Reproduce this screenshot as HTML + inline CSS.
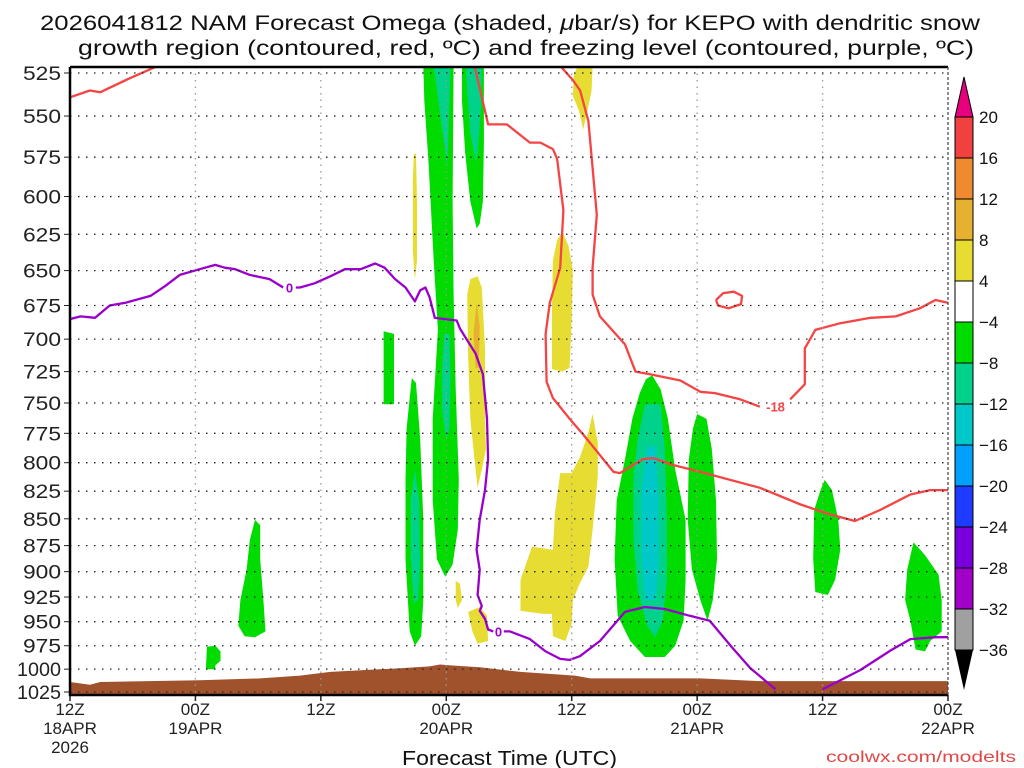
<!DOCTYPE html>
<html><head><meta charset="utf-8"><style>
body{margin:0;background:#fff;}
svg{display:block;font-family:"Liberation Sans",sans-serif;}
</style></head><body>
<svg id="chart" width="1024" height="768" viewBox="0 0 1024 768">
<text x="40" y="30" textLength="940" lengthAdjust="spacingAndGlyphs" font-size="21" fill="#111">2026041812 NAM Forecast Omega (shaded, <tspan font-style="italic">μ</tspan>bar/s) for KEPO with dendritic snow</text>
<text x="78" y="55" textLength="896" lengthAdjust="spacingAndGlyphs" font-size="21" fill="#111">growth region (contoured, red, ºC) and freezing level (contoured, purple, ºC)</text>
<g id="plot"></g>
<text x="402" y="765" textLength="215" lengthAdjust="spacingAndGlyphs" font-size="20" fill="#111">Forecast Time (UTC)</text>
<text x="826" y="762" textLength="190" lengthAdjust="spacingAndGlyphs" font-size="16" fill="#e04848">coolwx.com/modelts</text>
</svg>
<script>
// ---- data ----
const pressureTicks=[525,550,575,600,625,650,675,700,725,750,775,800,825,850,875,900,925,950,975,1000,1025];
const timeTickHours=[0,12,24,36,48,60,72,84];
const timeTickLabels=[["12Z","18APR","2026"],["00Z","19APR"],["12Z"],["00Z","20APR"],["12Z"],["00Z","21APR"],["12Z"],["00Z","22APR"]];
const colorLevels=[20,16,12,8,4,-4,-8,-12,-16,-20,-24,-28,-32,-36];
const colorFills=["#f04040","#f08a30","#e6b030","#e6dc32","#ffffff","#00dc00","#00d28c","#00c8c8","#00a0ff","#1e3cff","#7800dc","#a000c8","#a0a0a0"];
const terrain=[[0,1014],[1.9,1017],[2.9,1014],[12.4,1012],[18.2,1010],[22,1007],[24.9,1003],[31.6,999],[34.4,997],[35.4,995],[36.4,996],[39.2,998],[43.1,1003],[48.3,1007],[49.8,1010],[60.3,1010],[66,1013],[84,1013]];
const shadeGreen=[
[[33.8,521],[36.7,521],[36.6,603],[36.7,667],[36.9,738],[37.2,815],[37.1,860],[36.6,893],[35.9,905],[35.1,888],[34.7,833],[34.7,763],[35.2,693],[34.8,643],[34.3,578],[33.9,541]],
[[37.5,521],[39.6,521],[39.6,566],[39.5,603],[39.2,618],[38.9,621],[38.3,603],[37.8,572],[37.5,541]],
[[30,694],[31,696],[31,751],[30,751]],
[[32.7,730],[33.1,734],[33.5,780],[33.8,851],[33.8,928],[33.6,965],[33,975],[32.5,960],[32.1,888],[32.1,815],[32.2,771],[32.5,746]],
[[55.7,728],[56.5,739],[57.2,763],[57.9,806],[58.9,851],[58.9,908],[58.7,949],[57.9,975],[56.9,987],[55,987],[53.6,970],[52.4,944],[52.1,888],[52.3,833],[53.1,797],[53.8,763],[54.5,742],[55.1,731]],
[[60,759],[60.9,763],[61.4,788],[61.8,833],[61.9,888],[61.5,928],[61,949],[60.3,928],[59.5,898],[59.1,851],[59.2,797],[59.6,771]],
[[72.2,815],[72.9,824],[73.5,851],[73.7,879],[73.2,908],[72.5,923],[71.3,920],[71.1,888],[71.2,842],[71.8,824]],
[[80.7,872],[81.8,884],[83.1,903],[83.4,928],[83.4,960],[82.3,970],[81.8,981],[80.9,979],[80.4,949],[79.9,928],[80.1,898]],
[[17.7,851],[18.2,856],[18.2,888],[18.5,928],[18.7,960],[17.7,966],[16.7,965],[16.1,954],[16.3,928],[16.9,898],[17.2,870]],
[[13.1,976],[13.9,975],[14.4,981],[14.4,991],[13.9,996],[13.9,1000],[13,1000]]
];
const shadeTeal=[
[[34.8,521],[36.4,521],[36.1,581]],
[[35.8,696],[36.3,696],[36.4,730],[36.3,771],[36,780],[35.6,755],[35.6,722]],
[[37.9,521],[39.4,521],[39.3,547],[39,572],[38.8,578],[38.3,560],[38,535]],
[[33,806],[33.4,833],[33.5,888],[33.3,928],[32.9,931],[32.6,888],[32.6,833]],
[[55,751],[56.5,751],[56.9,788],[57.1,851],[57.1,908],[56.7,949],[56,966],[55.2,954],[54.3,918],[53.9,869],[53.9,815],[54.3,780]]
];
const shadeCyan=[
[[55.2,786],[56,786],[56.3,833],[56.3,898],[56,928],[55,928],[54.7,888],[54.7,824]]
];
const shadeYellow=[
[[32.9,573],[33.1,573],[33.2,603],[33.2,643],[33,656],[32.8,636],[32.8,590]],
[[48.6,521],[50,521],[49.9,535],[49.5,547],[49.1,558],[48.7,547],[48.1,538],[48.2,526]],
[[47.1,623],[47.7,633],[48.1,650],[48,685],[47.8,722],[47.1,725],[46.1,723],[46.1,681],[46.2,643],[46.6,629]],
[[38.3,656],[39,654],[39.4,662],[39.7,707],[39.7,763],[39.8,788],[39.4,806],[39,822],[38.7,797],[38.3,763],[38.1,715],[38,667]],
[[36.9,909],[37.3,912],[37.5,928],[37.1,936],[36.9,928]],
[[38.1,940],[39.2,935],[39.9,944],[40,970],[39,973],[38.5,960]],
[[50,759],[50.5,783],[50.5,812],[50,860],[49.6,895],[48.8,911],[48.1,928],[48,952],[47.4,970],[46.2,965],[46.1,942],[45.3,942],[43.1,939],[43.1,908],[44.2,876],[46.2,879],[46.4,844],[46.9,809],[48,809],[48.8,795],[49.6,774]]
];
const shadeGold=[
[[38.9,673],[39.2,690],[39.1,722],[38.8,722],[38.6,696]]
];
const redLines=[
[[0,539],[1.9,535],[2.9,536],[5.7,528],[8.4,521]],
[[38.7,521],[40,555],[41.8,555],[44,566],[45,566],[46.2,570],[46.6,576],[47.2,609],[46.9,648],[45.9,673],[45.5,696],[45.6,733],[46.2,746],[48,765],[49.1,776],[52,808],[52.6,809],[54.8,797],[55.8,796],[57.7,802],[60.3,808],[66,822],[69.9,837],[72.7,846],[75.1,852],[77.5,842],[80.4,828],[82.3,824],[84,824]],
[[46.9,521],[48.1,529],[48.8,535],[49.6,553],[50.4,612],[50,648],[50,667],[50.7,683],[53.1,704],[54.1,725],[55.5,727],[58.4,732],[60.3,741],[61.7,742],[64.1,747],[66,753]],
[[68.9,747],[70.3,735],[70.3,707],[71.3,693],[73.7,688],[76.6,684],[79,683],[81.3,677],[82.8,671],[84,673]],
[[61.8,671],[62.5,666],[63.5,665],[64.3,668],[64.2,674],[63,677],[62,675],[61.8,671]]
];
const redLabel=[67.5,753,"-18"];
const purpleLines=[
[[0,685],[1,683],[2.4,684],[3.8,675],[5.3,673],[7.7,668],[9.1,661],[10.5,653],[12.4,649],[13.9,646],[14.8,648],[15.8,649],[17.2,653],[19.1,656],[20.4,662]],
[[21.6,662],[22,662],[23.4,659],[24.9,654],[26.3,649],[27.8,649],[29.2,645],[30.1,648],[31.1,656],[32.1,662],[33,672],[33.5,664],[34,662],[34.4,669],[34.9,684],[35.9,685],[37,686],[37.3,692],[38.8,711],[39.5,727],[39.9,763],[40,797],[39.7,824],[39.2,851],[38.9,879],[39.2,898],[39,923],[39.4,934],[39.2,939],[39.7,947],[40,958],[40.5,960]],
[[41.5,960],[42.1,960],[44,968],[45.5,981],[46.9,989],[47.8,990],[48.8,986],[50.7,970],[53.1,940],[55,935],[56.9,937],[59.3,944],[61.2,949],[63.2,975],[65.1,999],[67.5,1022]],
[[72,1022],[75.6,1001],[78.5,980],[80.4,968],[82.8,966],[84,966]]
];
const purpleLabels=[[21,662,"0"],[41,960,"0"]];

// ---- axes ----
const X0=70,X1=948,Y0=67,Y1=695;
const hMax=84;
function xs(h){return X0+(h/hMax)*(X1-X0);}
function ys(p){return 73+Math.log(p/525)/Math.log(1025/525)*619;}
const NS="http://www.w3.org/2000/svg";
const plot=document.getElementById('plot');
function mk(tag,attrs,parent){const e=document.createElementNS(NS,tag);for(const k in attrs)e.setAttribute(k,attrs[k]);(parent||plot).appendChild(e);return e;}
function pts(arr){return arr.map(d=>xs(d[0]).toFixed(1)+","+ys(d[1]).toFixed(1)).join(" ");}

const defs=mk('defs',{});
const cp=mk('clipPath',{id:'clip'},defs);
mk('rect',{x:X0,y:Y0,width:X1-X0,height:Y1-Y0},cp);
const g=mk('g',{'clip-path':'url(#clip)'});



function shade(list,color,name){
  list.forEach((poly,i)=>{
    const e=mk('polygon',{points:pts(poly),fill:color},g);
    
    
  });
}
shade(shadeGreen,'#00dc00','omega-green');
shade(shadeTeal,'#00d28c','omega-teal');
shade(shadeCyan,'#00c8c8','omega-cyan');
shade(shadeYellow,'#e6dc32','omega-yellow');
shade(shadeGold,'#e6b030','omega-gold');

const tp=terrain.concat([[hMax,1040],[0,1040]]);
const terr=mk('polygon',{points:pts(tp),fill:'#a0522d'},g);



pressureTicks.forEach(p=>{
  const y=ys(p);
  const l=mk('line',{x1:X0,x2:X1,y1:y,y2:y,stroke:'#222','stroke-width':1.3,'stroke-dasharray':'1.5 6.5'});
  
  
  const t=mk('line',{x1:X0-6,x2:X0,y1:y,y2:y,stroke:'#222','stroke-width':1});
  
  
  const s=String(p);
  const w=s.length>3?44:38;
  const tx=mk('text',{x:61-w,y:y+7,'font-size':19,fill:'#222',textLength:w,lengthAdjust:'spacingAndGlyphs'});
  tx.textContent=s;
  
  
});
timeTickHours.forEach((h,i)=>{
  const x=xs(h);
  if(h>0&&h<hMax){
    const l=mk('line',{x1:x,x2:x,y1:Y0,y2:Y1,stroke:'#999','stroke-width':1.3,'stroke-dasharray':'1.5 5'});
    
    
  }
  const t=mk('line',{x1:x,x2:x,y1:Y1,y2:Y1+6,stroke:'#222','stroke-width':1.5});
  
  
  timeTickLabels[i].forEach((s,j)=>{
    const tx=mk('text',{x:x,y:Y1+20+j*19,'text-anchor':'middle','font-size':17,fill:'#222'});
    tx.textContent=s;
    
    
  });
});

function lines(list,color,name){
  list.forEach((ln,i)=>{
    const e=mk('polyline',{points:pts(ln),fill:'none',stroke:color,'stroke-width':2.3,'stroke-linejoin':'round'},g);
    
    
  });
}
lines(redLines,'#f44444','dgz-contour');
lines(purpleLines,'#9a00cc','freezing-contour');
const rl=mk('text',{x:xs(redLabel[0]),y:ys(redLabel[1])+5,'text-anchor':'middle','font-size':13,'font-weight':'bold',fill:'#f44444'});
rl.textContent=redLabel[2];


purpleLabels.forEach((d,i)=>{
  const t=mk('text',{x:xs(d[0]),y:ys(d[1])+5,'text-anchor':'middle','font-size':13,'font-weight':'bold',fill:'#9a00cc'});
  t.textContent=d[2];
  
  
});

const fr=mk('path',{d:`M${X0},${Y0}H${X1}M${X0},${Y0}V${Y1}H${X1}`,stroke:'#000','stroke-width':2.5,fill:'none'});


const fr2=mk('line',{x1:X1,x2:X1,y1:Y0,y2:Y1,stroke:'#444','stroke-width':1.2,'stroke-dasharray':'3 2'});



const CB={x:955,w:18,top:117,step:41};
const cb=mk('g',{});


const tri=mk('polygon',{points:`${CB.x},${CB.top} ${CB.x+CB.w},${CB.top} ${CB.x+CB.w/2},${CB.top-40}`,fill:'#e6007e',stroke:'#000','stroke-width':1},cb);


colorFills.forEach((c,i)=>{
  const r=mk('rect',{x:CB.x,y:CB.top+i*CB.step,width:CB.w,height:CB.step,fill:c,stroke:'#000','stroke-width':1},cb);
  
  
});
const bot=CB.top+colorFills.length*CB.step;
const tri2=mk('polygon',{points:`${CB.x},${bot} ${CB.x+CB.w},${bot} ${CB.x+CB.w/2},${bot+40}`,fill:'#000'},cb);


colorLevels.forEach((v,i)=>{
  const t=mk('text',{x:CB.x+CB.w+6,y:CB.top+i*CB.step+6,'font-size':17,fill:'#111'},cb);
  t.textContent=v<0?('\u2212'+Math.abs(v)):v;
  
  
});
</script>
</body></html>
